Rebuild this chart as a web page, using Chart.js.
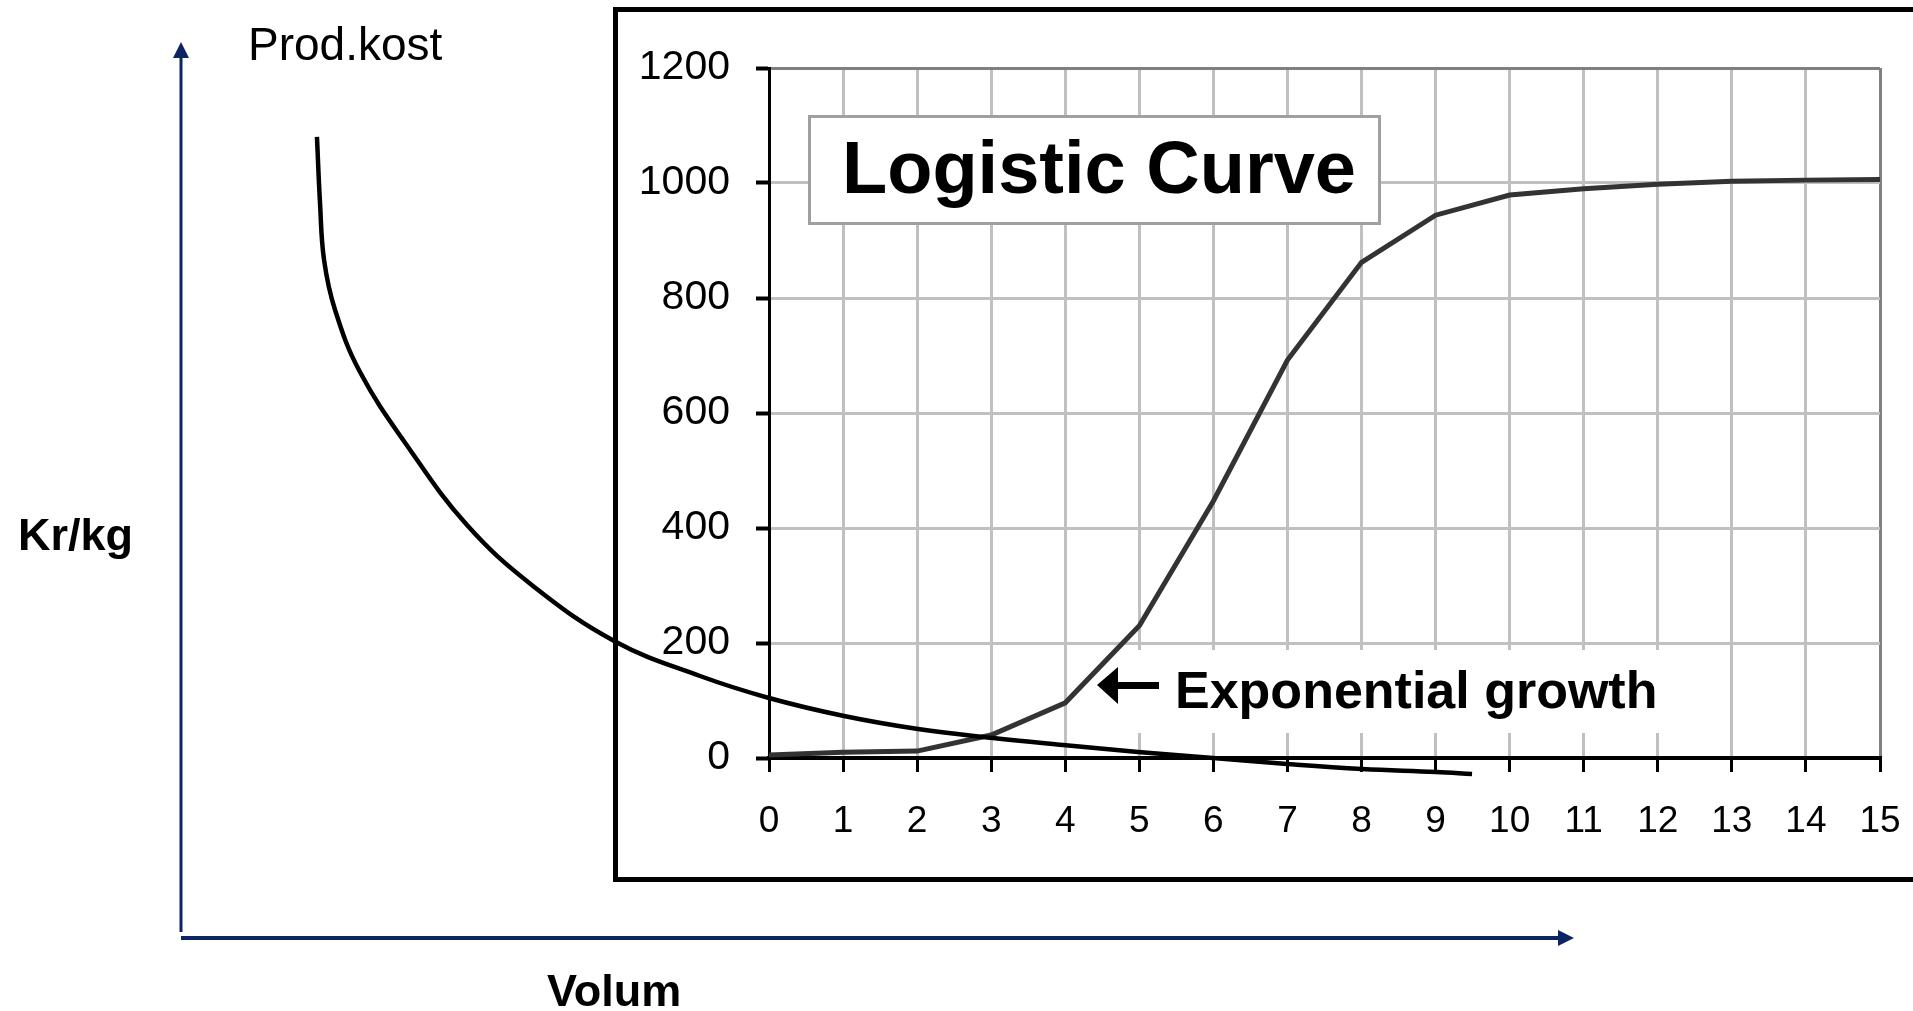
<!DOCTYPE html>
<html>
<head>
<meta charset="utf-8">
<title>Logistic Curve</title>
<script src="https://cdn.jsdelivr.net/npm/chart.js@4.4.1/dist/chart.umd.min.js"></script>
<style>
  html, body { margin: 0; padding: 0; background: #fff; overflow: hidden; }
  #wrap { position: relative; width: 1913px; height: 1011px; }
  canvas { position: absolute; left: 0; top: 0; }
</style>
</head>
<body>
<div id="wrap">
  <canvas id="logistic" width="1913" height="1011"></canvas>
  <canvas id="cost" width="1913" height="1011"></canvas>
</div>
<script>
'use strict';

// excel chart: logistic curve
var volumSteps = [0, 1, 2, 3, 4, 5, 6, 7, 8, 9, 10, 11, 12, 13, 14, 15];
var logisticValues = [5, 10, 12, 40, 96, 230, 447, 692, 862, 944, 979, 990, 998, 1003, 1005, 1006];
var yTicks = [0, 200, 400, 600, 800, 1000, 1200];

// sketch on top: production cost (Kr/kg) against volume
var costVolum = [0.976, 0.998, 1.027, 1.106, 1.285, 1.630, 2.053, 2.527, 3.123, 3.726, 4.221, 4.760, 5.291, 5.829, 6.332, 6.870, 7.408, 7.940, 8.478, 9.009, 9.268];
var costKrKg = [8.940, 8.203, 7.567, 7.009, 6.317, 5.480, 4.609, 3.929, 3.304, 2.924, 2.679, 2.478, 2.333, 2.232, 2.154, 2.076, 2.009, 1.942, 1.886, 1.853, 1.830];

var FONT = "'Liberation Sans', Arial, sans-serif";
var NAVY = '#0b2462';

var decorations = {
  id: 'decorations',
  beforeDatasetsDraw: function(chart) {
    var ctx = chart.ctx;
    ctx.save();
    // title box
    ctx.fillStyle = '#fff';
    ctx.fillRect(808, 115, 573, 110);
    ctx.strokeStyle = '#a0a0a0';
    ctx.lineWidth = 3;
    ctx.strokeRect(809.5, 116.5, 570, 107);
    ctx.fillStyle = '#000';
    ctx.textAlign = 'left';
    ctx.textBaseline = 'alphabetic';
    ctx.font = 'bold 74px ' + FONT;
    ctx.fillText('Logistic Curve', 842, 193);

    // annotation with arrow
    ctx.fillStyle = '#fff';
    ctx.fillRect(1092, 650, 572, 83);
    ctx.fillStyle = '#000';
    ctx.beginPath();
    ctx.moveTo(1097, 685);
    ctx.lineTo(1118, 667);
    ctx.lineTo(1118, 704);
    ctx.closePath();
    ctx.fill();
    ctx.fillRect(1116, 682, 43, 7);
    ctx.font = 'bold 52px ' + FONT;
    ctx.fillText('Exponential growth', 1175, 708);
    ctx.restore();
  },
  afterDraw: function(chart) {
    var ctx = chart.ctx;
    ctx.save();
    ctx.strokeStyle = '#000';
    ctx.lineWidth = 5;
    ctx.strokeRect(615.5, 9.5, 1400, 870);
    ctx.restore();
  }
};

new Chart(document.getElementById('logistic'), {
  type: 'line',
  data: {
    datasets: [{
      data: volumSteps.map(function(x, i) { return {x: x, y: logisticValues[i]}; }),
      borderColor: '#333333',
      borderWidth: 5,
      pointRadius: 0,
      tension: 0,
      fill: false
    }]
  },
  options: {
    responsive: false,
    animation: false,
    devicePixelRatio: 1,
    events: [],
    layout: { padding: { left: 0, top: 68, right: 33, bottom: 153 } },
    plugins: { legend: { display: false }, tooltip: { enabled: false } },
    scales: {
      x: {
        type: 'linear',
        min: 0,
        max: 15,
        afterBuildTicks: function(scale) {
          scale.ticks = volumSteps.map(function(v) { return {value: v}; });
        },
        afterFit: function(scale) {
          scale.height = 100;
          scale.paddingLeft = 0;
          scale.paddingRight = 0;
        },
        grid: {
          color: function(c) { return c.tick && c.tick.value === 15 ? '#808080' : '#c0c0c0'; },
          lineWidth: 3,
          tickLength: 14,
          tickColor: '#000',
          tickWidth: 3
        },
        border: { color: '#000', width: 4 },
        ticks: {
          color: '#000',
          font: { family: FONT, size: 37 },
          padding: 28,
          maxRotation: 0,
          autoSkip: false,
          callback: function(v) { return String(v); }
        }
      },
      y: {
        min: 0,
        max: 1200,
        afterBuildTicks: function(scale) {
          scale.ticks = yTicks.map(function(v) { return {value: v}; });
        },
        afterFit: function(scale) {
          scale.width = 769;
          scale.paddingTop = 0;
          scale.paddingBottom = 0;
        },
        grid: {
          color: function(c) { return c.tick && c.tick.value === 1200 ? '#808080' : '#c0c0c0'; },
          lineWidth: 3,
          tickLength: 13,
          tickColor: '#000',
          tickWidth: 4
        },
        border: { color: '#000', width: 3 },
        ticks: {
          color: '#000',
          font: { family: FONT, size: 41 },
          padding: 26,
          callback: function(v) { return String(v); }
        }
      }
    }
  },
  plugins: [decorations]
});

var sketchAxes = {
  id: 'sketchAxes',
  afterDraw: function(chart) {
    var ctx = chart.ctx;
    var a = chart.chartArea;
    ctx.save();
    ctx.strokeStyle = NAVY;
    ctx.fillStyle = NAVY;
    ctx.lineWidth = 3;
    ctx.beginPath();
    ctx.moveTo(a.left, a.bottom - 6);
    ctx.lineTo(a.left, a.top + 12);
    ctx.stroke();
    ctx.beginPath();
    ctx.moveTo(a.left, a.top);
    ctx.lineTo(a.left - 8, a.top + 16);
    ctx.lineTo(a.left + 8, a.top + 16);
    ctx.closePath();
    ctx.fill();

    ctx.lineWidth = 4;
    ctx.beginPath();
    ctx.moveTo(a.left, a.bottom);
    ctx.lineTo(a.right - 12, a.bottom);
    ctx.stroke();
    ctx.beginPath();
    ctx.moveTo(a.right, a.bottom);
    ctx.lineTo(a.right - 16, a.bottom - 8);
    ctx.lineTo(a.right - 16, a.bottom + 8);
    ctx.closePath();
    ctx.fill();

    ctx.fillStyle = '#000';
    ctx.textAlign = 'left';
    ctx.textBaseline = 'alphabetic';
    ctx.font = '46px ' + FONT;
    ctx.fillText('Prod.kost', 248, 60);
    ctx.font = 'bold 45px ' + FONT;
    ctx.fillText('Kr/kg', 18, 550);
    ctx.fillText('Volum', 547, 1006);
    ctx.restore();
  }
};

new Chart(document.getElementById('cost'), {
  type: 'line',
  data: {
    datasets: [{
      data: costVolum.map(function(x, i) { return {x: x, y: costKrKg[i]}; }),
      borderColor: '#000',
      borderWidth: 4.5,
      pointRadius: 0,
      tension: 0.4,
      fill: false,
      clip: false
    }]
  },
  options: {
    responsive: false,
    animation: false,
    devicePixelRatio: 1,
    events: [],
    layout: { padding: { left: 181, top: 42, right: 339, bottom: 73 } },
    plugins: { legend: { display: false }, tooltip: { enabled: false } },
    scales: {
      x: { type: 'linear', min: 0, max: 10, display: false },
      y: { min: 0, max: 10, display: false }
    }
  },
  plugins: [sketchAxes]
});
</script>
</body>
</html>
